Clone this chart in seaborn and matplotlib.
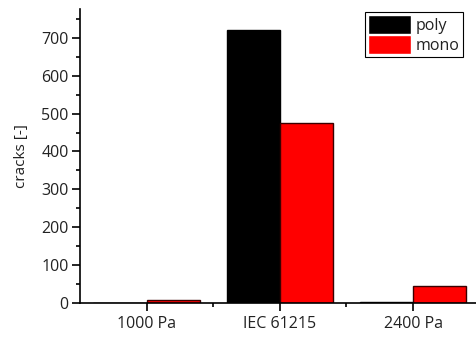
import matplotlib
matplotlib.use("Agg")
import matplotlib.pyplot as plt
import seaborn as sns
import pandas as pd
from matplotlib.ticker import MultipleLocator, FixedLocator

# Crack counts per test load, for poly- and monocrystalline modules
loads = ["1000 Pa", "IEC 61215", "2400 Pa"]
poly = [0, 720, 3]
mono = [7, 476, 44]

df = pd.DataFrame({
    "load": loads * 2,
    "cracks": poly + mono,
    "type": ["poly"] * 3 + ["mono"] * 3,
})

sns.set_theme(style="ticks")
plt.rcParams["font.family"] = ["Open Sans", "DejaVu Sans"]

fig = plt.figure(figsize=(4.77, 3.38), dpi=100)
ax = fig.add_axes([0.168, 0.104, 0.832, 0.869])

sns.barplot(data=df, x="load", y="cracks", hue="type", order=loads,
            hue_order=["poly", "mono"], palette=["#000000", "#ff0000"],
            width=0.8, linewidth=1.0, saturation=1, ax=ax)

edges = {"poly": "#000000", "mono": "#3a0000"}
for container, name in zip(ax.containers, ["poly", "mono"]):
    for bar in container:
        bar.set_edgecolor(edges[name])

ax.set_xlim(-0.5, 2.48)
ax.set_ylim(0, 776)
ax.yaxis.set_major_locator(MultipleLocator(100))
ax.yaxis.set_minor_locator(MultipleLocator(50))
ax.xaxis.set_minor_locator(FixedLocator([0.5, 1.5]))

ax.set_xlabel("")
ax.set_ylabel("cracks [-]", fontsize=11, color="#222222", labelpad=9)
ax.tick_params(axis="both", which="major", direction="out", length=5.8,
               width=1.2, labelsize=11.5, colors="#000000", labelcolor="#222222",
               pad=2.5)
ax.tick_params(axis="x", which="major", pad=4)
ax.tick_params(axis="both", which="minor", direction="out", length=3,
               width=1.2, colors="#000000")

for side in ["top", "right"]:
    ax.spines[side].set_visible(False)
for side in ["left", "bottom"]:
    ax.spines[side].set_linewidth(1.2)
    ax.spines[side].set_color("#000000")

leg = ax.legend(loc="upper right", bbox_to_anchor=(0.965, 0.99), frameon=True,
                fancybox=False, edgecolor="#000000", framealpha=1,
                fontsize=11.5, handlelength=2.7, handleheight=1.4,
                labelspacing=0.1, borderpad=0.2, handletextpad=0.3,
                borderaxespad=0.0)
leg.get_frame().set_linewidth(0.8)
for t in leg.get_texts():
    t.set_color("#222222")

fig.savefig("out.png", dpi=100)
